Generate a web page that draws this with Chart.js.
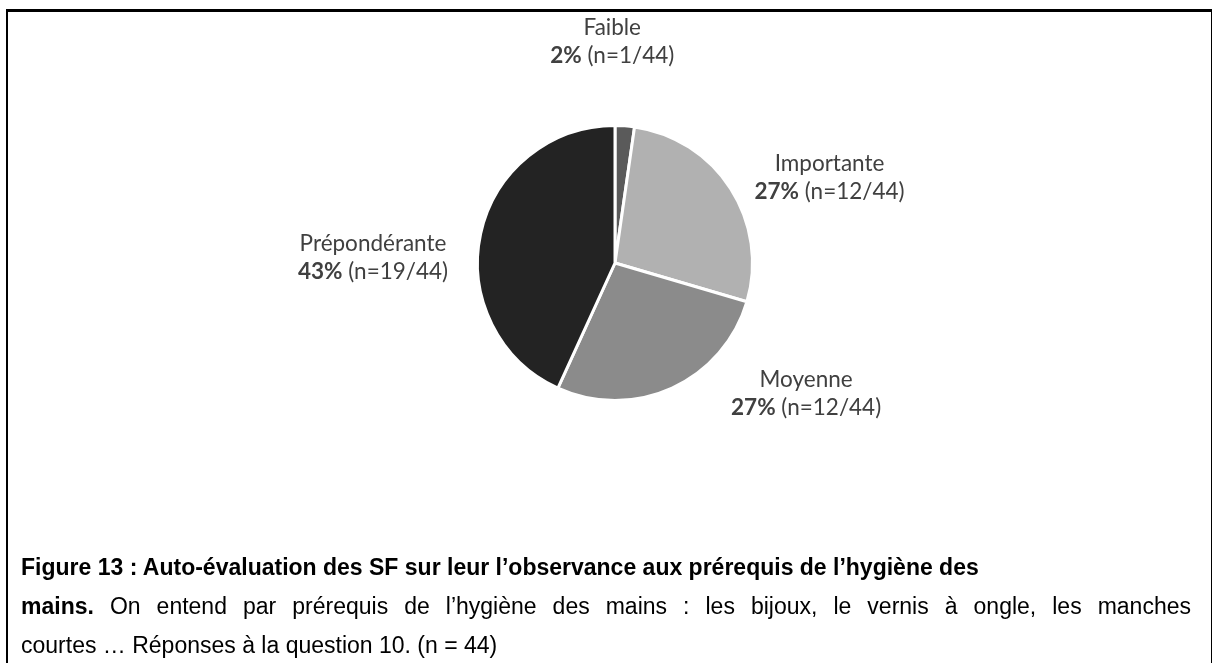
<!DOCTYPE html>
<html lang="fr">
<head>
<meta charset="utf-8">
<script src="https://cdn.jsdelivr.net/npm/chart.js@4"></script>
<style>
  html, body { margin: 0; padding: 0; background: #fff; }
  body { width: 1215px; height: 663px; position: relative; overflow: hidden; }
  #cadre {
    position: absolute; left: 6px; top: 9px; width: 1203px; height: 660px;
    border-left: 2px solid #000; border-top: 3px solid #000; border-right: 1px solid #000;
  }
  #graphe { position: absolute; left: 0; top: 0; }
  #legende {
    position: absolute; left: 21px; top: 548px; width: 1170px;
    font-family: "Liberation Sans", Arial, sans-serif; font-size: 23px;
    line-height: 39px; color: #000;
  }
  #legende div { white-space: nowrap; }
  #legende .justifie { text-align: justify; text-align-last: justify; white-space: normal; }
</style>
</head>
<body>
<div id="cadre"></div>
<canvas id="graphe" width="1215" height="663"></canvas>
<div id="legende">
  <div><b>Figure 13 : Auto-évaluation des SF sur leur l’observance aux prérequis de l’hygiène des</b></div>
  <div class="justifie"><b>mains.</b> On entend par prérequis de l’hygiène des mains : les bijoux, le vernis à ongle, les manches</div>
  <div>courtes … Réponses à la question 10. (n = 44)</div>
</div>
<script>
// Données
const categories = ["Faible", "Importante", "Moyenne", "Prépondérante"];
const effectifs = [1, 12, 12, 19];
const couleurs = ["#5a5a5a", "#b1b1b1", "#8b8b8b", "#232323"];
const total = effectifs.reduce((a, b) => a + b, 0);

// Placement des étiquettes (en rayons, depuis le centre du camembert)
const decalages = [[-0.02, -1.61], [1.56, -0.62], [1.39, 0.95], [-1.76, -0.04]];

const etiquettes = {
  id: "etiquettes",
  afterDatasetsDraw(chart) {
    const ctx = chart.ctx;
    const meta = chart.getDatasetMeta(0);
    const police = "22.5px Lato";
    const policeGras = "bold 22.5px Lato";
    ctx.save();
    ctx.fillStyle = "#404040";
    ctx.textBaseline = "middle";
    meta.data.forEach((arc, i) => {
      const r = arc.outerRadius;
      const x = arc.x + decalages[i][0] * r;
      const y = arc.y + decalages[i][1] * r;
      // ligne 1 : catégorie
      ctx.font = police;
      ctx.textAlign = "center";
      ctx.fillText(categories[i], x, y - 14);
      // ligne 2 : pourcentage en gras + effectif
      const pct = Math.round(effectifs[i] / total * 100) + "%";
      const n = " (n=" + effectifs[i] + "/" + total + ")";
      ctx.font = policeGras;
      const w1 = ctx.measureText(pct).width;
      ctx.font = police;
      const w2 = ctx.measureText(n).width;
      const x0 = x - (w1 + w2) / 2;
      ctx.textAlign = "left";
      ctx.font = policeGras;
      ctx.fillText(pct, x0, y + 14);
      ctx.font = police;
      ctx.fillText(n, x0 + w1, y + 14);
    });
    ctx.restore();
  }
};

new Chart(document.getElementById("graphe"), {
  type: "pie",
  data: {
    labels: categories,
    datasets: [{
      data: effectifs,
      backgroundColor: couleurs,
      borderColor: "#ffffff",
      borderWidth: 3
    }]
  },
  options: {
    responsive: false,
    animation: false,
    devicePixelRatio: 1,
    layout: { padding: { left: 476, right: 461, top: 124, bottom: 261 } },
    plugins: { legend: { display: false }, tooltip: { enabled: false } }
  },
  plugins: [etiquettes]
});
</script>
</body>
</html>
